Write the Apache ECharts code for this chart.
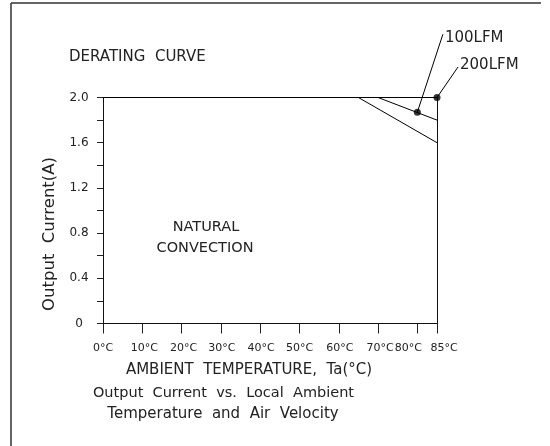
<!DOCTYPE html>
<html>
<head>
<meta charset="utf-8">
<script src="https://cdn.jsdelivr.net/npm/echarts@6/dist/echarts.min.js"></script>
<style>
html,body{margin:0;padding:0;background:#fff;}
#chart{width:550px;height:446px;}
</style>
</head>
<body>
<div id="chart"></div>
<script>
// ---- data ----
var xTickValues = [0, 10, 20, 30, 40, 50, 60, 70, 80, 85];
var xTickLabels = ['0°C', '10°C', '20°C', '30°C', '40°C', '50°C', '60°C', '70°C', '80°C', '85°C'];
var yTickValues = [0, 0.2, 0.4, 0.6, 0.8, 1.0, 1.2, 1.4, 1.6, 1.8, 2.0];
var yLabelValues = [0, 0.4, 0.8, 1.2, 1.6, 2.0];
var yTickLabels = ['0', '0.4', '0.8', '1.2', '1.6', '2.0'];
var naturalConvection = [[0, 2.0], [65, 2.0], [85, 1.6]];
var lfm100 = [[0, 2.0], [70, 2.0], [85, 1.8]];
var lfm200 = [[0, 2.0], [85, 2.0]];
var lfm100Marker = [[80, 1.87]];
var lfm200Marker = [[85, 2.0]];
var lfm100Leader = [[80, 1.87], [86.5, 2.56]];
var lfm200Leader = [[85, 2.0], [90.35, 2.27]];
var annotationLabels = ['100LFM', '200LFM'];

// ---- style only ----
var xLabelShift = [0, 2, 2, 1, 1, 0, 1, 2, -9, 7];
var FONT = 'DejaVu Sans';
var INK = '#222';

var rich = {};
xLabelShift.forEach(function (d, i) {
  rich['s' + i] = {
    fontFamily: FONT, fontSize: 11, color: INK,
    padding: d >= 0 ? [0, 0, 0, 2 * d] : [0, -2 * d, 0, 0]
  };
});

var chart = echarts.init(document.getElementById('chart'), null, {renderer: 'canvas'});
var lineStyle = {color: '#000', width: 1};

var baseGraphic = [
  {type: 'line', shape: {x1: 11, y1: 3, x2: 541, y2: 3}, style: {stroke: '#333', lineWidth: 1.5}},
  {type: 'line', shape: {x1: 11, y1: 3, x2: 11, y2: 446}, style: {stroke: '#333', lineWidth: 1.5}},
  {type: 'text', x: 69, y: 57.5, style: {text: 'DERATING  CURVE', font: '15px "DejaVu Sans"', fill: INK, textVerticalAlign: 'middle'}},
  {type: 'text', x: 206, y: 227.5, style: {text: 'NATURAL', font: '14.5px "DejaVu Sans"', fill: INK, textAlign: 'center', textVerticalAlign: 'middle'}},
  {type: 'text', x: 205, y: 248, style: {text: 'CONVECTION', font: '14.5px "DejaVu Sans"', fill: INK, textAlign: 'center', textVerticalAlign: 'middle'}},
  {type: 'text', x: 50, y: 234, rotation: Math.PI / 2, style: {text: 'Output  Current(A)', font: '16.5px "DejaVu Sans"', fill: INK, textAlign: 'center', textVerticalAlign: 'middle'}},
  {type: 'text', x: 249, y: 370, style: {text: 'AMBIENT  TEMPERATURE,  Ta(°C)', font: '15px "DejaVu Sans"', fill: INK, textAlign: 'center', textVerticalAlign: 'middle'}},
  {type: 'text', x: 223.5, y: 393, style: {text: 'Output  Current  vs.  Local  Ambient', font: '14.5px "DejaVu Sans"', fill: INK, textAlign: 'center', textVerticalAlign: 'middle'}},
  {type: 'text', x: 223, y: 414, style: {text: 'Temperature  and  Air  Velocity', font: '15px "DejaVu Sans"', fill: INK, textAlign: 'center', textVerticalAlign: 'middle'}}
];

chart.setOption({
  animation: false,
  backgroundColor: '#fff',
  grid: {left: 103, right: 113, top: 97.5, bottom: 122.5, containLabel: false},
  xAxis: {
    type: 'value', min: 0, max: 85,
    axisLine: {show: true, onZero: false, lineStyle: {color: '#111', width: 1}},
    axisTick: {show: true, inside: false, length: 10, customValues: xTickValues,
      lineStyle: {color: '#222', width: 1}},
    axisLabel: {
      show: true, margin: 19, customValues: xTickValues,
      formatter: function (v) {
        var i = xTickValues.indexOf(v);
        return '{s' + i + '|' + xTickLabels[i] + '}';
      },
      rich: rich
    },
    splitLine: {show: false}
  },
  yAxis: [{
    type: 'value', min: 0, max: 2,
    axisLine: {show: true, onZero: false, lineStyle: {color: '#111', width: 1}},
    axisTick: {show: true, inside: false, length: 6, customValues: yTickValues,
      lineStyle: {color: '#222', width: 1}},
    axisLabel: {
      show: true, margin: 24, align: 'center', customValues: yLabelValues,
      fontFamily: FONT, fontSize: 12, color: INK,
      formatter: function (v) {
        for (var i = 0; i < yLabelValues.length; i++) {
          if (Math.abs(yLabelValues[i] - v) < 1e-6) return yTickLabels[i];
        }
        return '';
      }
    },
    splitLine: {show: false}
  }, {
    type: 'value', min: 0, max: 2, position: 'right',
    axisLine: {show: true, onZero: false, lineStyle: {color: '#111', width: 1}},
    axisTick: {show: false}, axisLabel: {show: false}, splitLine: {show: false}
  }],
  series: [
    {type: 'line', data: naturalConvection, symbol: 'none', lineStyle: lineStyle, z: 3},
    {type: 'line', data: lfm100, symbol: 'none', lineStyle: lineStyle, z: 3},
    {type: 'line', data: lfm200, symbol: 'none', lineStyle: lineStyle, z: 3},
    {type: 'scatter', data: lfm100Marker, symbol: 'circle', symbolSize: 7,
      itemStyle: {color: '#000'}, z: 6, clip: false},
    {type: 'scatter', data: lfm200Marker, symbol: 'circle', symbolSize: 7,
      itemStyle: {color: '#000'}, z: 6, clip: false}
  ],
  graphic: baseGraphic
});

// Leader lines + labels, positioned through the chart's own scales
function px(p) { return chart.convertToPixel({gridIndex: 0}, p); }
function leader(data, text, dy) {
  var a = px(data[0]), b = px(data[1]);
  return [
    {type: 'line', shape: {x1: a[0], y1: a[1], x2: b[0], y2: b[1]},
      style: {stroke: '#000', lineWidth: 1}, z: 5},
    {type: 'text', x: b[0] + 2, y: b[1] + dy,
      style: {text: text, font: '15px "DejaVu Sans"', fill: INK, textVerticalAlign: 'middle'}, z: 5}
  ];
}
chart.setOption({
  graphic: baseGraphic
    .concat(leader(lfm100Leader, annotationLabels[0], 4))
    .concat(leader(lfm200Leader, annotationLabels[1], -2))
});
</script>
</body>
</html>
